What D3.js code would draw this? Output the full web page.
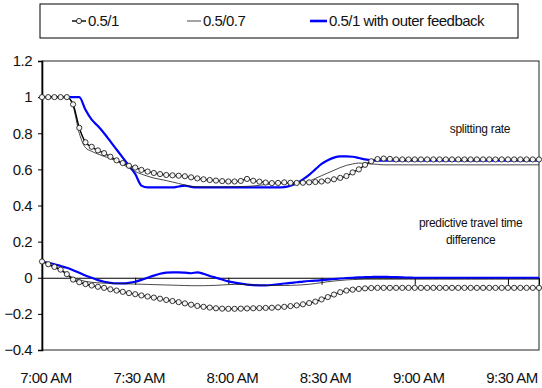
<!DOCTYPE html>
<html>
<head>
<meta charset="utf-8">
<script src="https://cdn.jsdelivr.net/npm/d3@7"></script>
<style>
  html, body { margin: 0; padding: 0; background: #fff; }
  svg { display: block; }
  text { font-family: "Liberation Sans", Arial, sans-serif; fill: #111; }
</style>
</head>
<body>
<svg id="chart" width="542" height="388"></svg>
<script>
// minutes after 7:00 AM, one sample every 2 minutes
const minutes = [
  0, 2, 4, 6, 8, 10, 12, 14, 16, 18, 20, 22, 24, 26, 28, 30, 32, 34, 36, 38,
  40, 42, 44, 46, 48, 50, 52, 54, 56, 58, 60, 62, 64, 66, 68, 70, 72, 74, 76, 78,
  80, 82, 84, 86, 88, 90, 92, 94, 96, 98, 100, 102, 104, 106, 108, 110, 112, 114, 116, 118,
  120, 122, 124, 126, 128, 130, 132, 134, 136, 138, 140, 142, 144, 146, 148, 150, 152, 154, 156, 158,
  160
];

// splitting rate
const splitA = [
  1.0, 1.0, 1.0, 1.0, 1.0, 0.96, 0.83, 0.75, 0.725, 0.705, 0.69, 0.67, 0.65, 0.635, 0.62, 0.61, 0.597, 0.588, 0.58, 0.574,
  0.569, 0.567, 0.565, 0.562, 0.556, 0.55, 0.545, 0.541, 0.538, 0.535, 0.533, 0.533, 0.536, 0.547, 0.537, 0.532, 0.527, 0.524, 0.525, 0.528,
  0.526, 0.525, 0.526, 0.528, 0.53, 0.533, 0.538, 0.545, 0.553, 0.563, 0.583, 0.6, 0.625, 0.645, 0.657, 0.66, 0.658, 0.655, 0.655, 0.655,
  0.655, 0.655, 0.655, 0.655, 0.655, 0.655, 0.655, 0.655, 0.655, 0.655, 0.655, 0.655, 0.655, 0.655, 0.655, 0.655, 0.655, 0.655, 0.655, 0.655,
  0.655
];
const splitB = [
  1.0, 1.0, 1.0, 1.0, 1.0, 0.95, 0.8, 0.72, 0.7, 0.685, 0.672, 0.66, 0.645, 0.628, 0.607, 0.588, 0.574, 0.562, 0.552, 0.545,
  0.538, 0.53, 0.522, 0.513, 0.506, 0.504, 0.503, 0.503, 0.503, 0.503, 0.503, 0.504, 0.505, 0.506, 0.508, 0.512, 0.516, 0.52, 0.522, 0.523,
  0.524, 0.525, 0.528, 0.535, 0.55, 0.565, 0.58, 0.595, 0.61, 0.622, 0.63, 0.635, 0.633, 0.63, 0.628, 0.625, 0.625, 0.625, 0.625, 0.625,
  0.625, 0.625, 0.625, 0.625, 0.625, 0.625, 0.625, 0.625, 0.625, 0.625, 0.625, 0.625, 0.625, 0.625, 0.625, 0.625, 0.625, 0.625, 0.625, 0.625,
  0.625
];
const splitC = [
  1.0, 1.0, 1.0, 1.0, 1.0, 1.0, 1.0, 0.93, 0.875, 0.84, 0.8, 0.755, 0.71, 0.665, 0.62, 0.575, 0.51, 0.5, 0.5, 0.5,
  0.5, 0.5, 0.505, 0.51, 0.503, 0.5, 0.5, 0.5, 0.5, 0.5, 0.5, 0.5, 0.5, 0.5, 0.5, 0.5, 0.5, 0.5, 0.5, 0.502,
  0.51, 0.525, 0.545, 0.57, 0.6, 0.63, 0.65, 0.665, 0.672, 0.672, 0.67, 0.663, 0.655, 0.65, 0.648, 0.648, 0.648, 0.648, 0.648, 0.648,
  0.648, 0.648, 0.648, 0.648, 0.648, 0.648, 0.648, 0.648, 0.648, 0.648, 0.648, 0.648, 0.648, 0.648, 0.648, 0.648, 0.648, 0.648, 0.648, 0.648,
  0.648
];

// predictive travel time difference
const diffA = [
  0.09, 0.075, 0.06, 0.045, 0.02, -0.01, -0.025, -0.035, -0.043, -0.05, -0.056, -0.064, -0.071, -0.078, -0.085, -0.091, -0.098, -0.104, -0.11, -0.116,
  -0.123, -0.129, -0.135, -0.142, -0.149, -0.156, -0.161, -0.165, -0.169, -0.171, -0.172, -0.172, -0.171, -0.17, -0.169, -0.168, -0.167, -0.166, -0.164, -0.161,
  -0.157, -0.153, -0.147, -0.14, -0.132, -0.12, -0.107, -0.093, -0.08, -0.071, -0.066, -0.062, -0.059, -0.057, -0.056, -0.056, -0.056, -0.056, -0.056, -0.056,
  -0.056, -0.056, -0.056, -0.056, -0.056, -0.056, -0.056, -0.056, -0.056, -0.056, -0.056, -0.056, -0.056, -0.056, -0.056, -0.056, -0.056, -0.056, -0.056, -0.056,
  -0.056
];
const diffB = [
  0.09, 0.072, 0.055, 0.04, 0.02, 0.0, -0.012, -0.02, -0.025, -0.028, -0.03, -0.031, -0.032, -0.033, -0.034, -0.035, -0.036, -0.037, -0.038, -0.039,
  -0.04, -0.041, -0.042, -0.043, -0.044, -0.044, -0.044, -0.043, -0.042, -0.04, -0.038, -0.037, -0.037, -0.038, -0.04, -0.041, -0.042, -0.043, -0.043, -0.043,
  -0.042, -0.041, -0.039, -0.036, -0.032, -0.027, -0.022, -0.018, -0.015, -0.012, -0.01, -0.009, -0.008, -0.008, -0.008, -0.008, -0.008, -0.008, -0.008, -0.008,
  -0.008, -0.008, -0.008, -0.008, -0.008, -0.008, -0.008, -0.008, -0.008, -0.008, -0.008, -0.008, -0.008, -0.008, -0.008, -0.008, -0.008, -0.008, -0.008, -0.008,
  -0.008
];
const diffC = [
  0.09, 0.083, 0.075, 0.065, 0.055, 0.042, 0.028, 0.013, 0.0, -0.013, -0.022, -0.028, -0.031, -0.031, -0.028, -0.022, -0.012, 0.0, 0.012, 0.022,
  0.028, 0.03, 0.03, 0.028, 0.025, 0.03, 0.022, 0.01, 0.0, -0.01, -0.02, -0.027, -0.033, -0.038, -0.041, -0.042, -0.042, -0.04, -0.036, -0.032,
  -0.028, -0.025, -0.021, -0.018, -0.016, -0.013, -0.01, -0.007, -0.004, -0.002, 0.0, 0.002, 0.003, 0.004, 0.005, 0.005, 0.004, 0.003, 0.002, 0.001,
  0.0, 0.0, 0.0, 0.0, 0.0, 0.0, 0.0, 0.0, 0.0, 0.0, 0.0, 0.0, 0.0, 0.0, 0.0, 0.0, 0.0, 0.0, 0.0, 0.0,
  0.0
];

const seriesNames = ["0.5/1", "0.5/0.7", "0.5/1 with outer feedback"];
const yTicks = [-0.4, -0.2, 0, 0.2, 0.4, 0.6, 0.8, 1, 1.2];
const xTicks = [0, 30, 60, 90, 120, 150];
const xTickLabels = ["7:00 AM", "7:30 AM", "8:00 AM", "8:30 AM", "9:00 AM", "9:30 AM"];
const notes = [
  { lines: ["splitting rate"], t: 141, v: 0.8 },
  { lines: ["predictive travel time", "difference"], t: 138, v: 0.28 }
];

const svg = d3.select("#chart");
const plot = { left: 42, right: 539, top: 61, bottom: 350 };

const x = d3.scaleLinear().domain([0, 160]).range([plot.left, plot.right]);
const y = d3.scaleLinear().domain([-0.4, 1.2]).range([plot.bottom, plot.top]);

const blue = "#0000ff";

// plot frame
svg.append("rect")
  .attr("x", plot.left).attr("y", plot.top)
  .attr("width", plot.right - plot.left).attr("height", plot.bottom - plot.top)
  .attr("fill", "none").attr("stroke", "#222").attr("stroke-width", 1);

// value axis on the left
const yAxis = svg.append("g")
  .attr("transform", `translate(${plot.left},0)`)
  .call(d3.axisLeft(y).tickValues(yTicks).tickSize(4).tickPadding(6)
    .tickFormat(d => d3.format("")(+d.toFixed(1))));
yAxis.select(".domain").attr("stroke", "#000").attr("stroke-width", 1.6);
yAxis.selectAll(".tick line").attr("stroke", "#000");
yAxis.selectAll(".tick text")
  .style("font-size", "15px").style("letter-spacing", "-0.5px")
  .attr("fill", "#111");

// time axis along the zero line
const xAxis = svg.append("g")
  .attr("transform", `translate(0,${y(0)})`)
  .call(d3.axisBottom(x).tickValues(xTicks).tickSize(7).tickFormat(""));
xAxis.select(".domain").attr("stroke", "#000").attr("stroke-width", 1);
xAxis.selectAll(".tick line").attr("stroke", "#000");

// time labels under the frame
svg.append("g").selectAll("text")
  .data(xTicks)
  .join("text")
  .attr("x", d => x(d) + 4)
  .attr("y", 383)
  .attr("text-anchor", "middle")
  .style("font-size", "15px").style("letter-spacing", "-0.5px")
  .text((d, i) => xTickLabels[i]);

const line = d3.line()
  .x((d, i) => x(minutes[i]))
  .y(d => y(d))
  .curve(d3.curveMonotoneX);

function drawSeries(values, style) {
  svg.append("path")
    .datum(values)
    .attr("d", line)
    .attr("fill", "none")
    .attr("stroke", style.color)
    .attr("stroke-width", style.width)
    .attr("stroke-linejoin", "round");
  if (style.markers) {
    svg.append("g").selectAll("circle")
      .data(values)
      .join("circle")
      .attr("cx", (d, i) => x(minutes[i]))
      .attr("cy", d => y(d))
      .attr("r", 2.6)
      .attr("fill", "#f4f4f4")
      .attr("stroke", "#222")
      .attr("stroke-width", 0.9);
  }
}

const styles = [
  { color: "#000", width: 1.4, markers: true },
  { color: "#1a1a1a", width: 0.8, markers: false },
  { color: blue, width: 2.2, markers: false }
];

drawSeries(diffC, styles[2]);
drawSeries(splitC, styles[2]);
drawSeries(diffB, styles[1]);
drawSeries(splitB, styles[1]);
drawSeries(diffA, styles[0]);
drawSeries(splitA, styles[0]);

// annotations inside the plot
notes.forEach(n => {
  const t = svg.append("text")
    .attr("x", x(n.t)).attr("y", y(n.v))
    .attr("text-anchor", "middle")
    .style("font-size", "12px").style("letter-spacing", "-0.3px");
  n.lines.forEach((s, i) => {
    t.append("tspan").attr("x", x(n.t)).attr("dy", i === 0 ? 0 : 16.5).text(s);
  });
});

// legend
const legend = svg.append("g");
legend.append("rect")
  .attr("x", 40).attr("y", 4).attr("width", 478).attr("height", 34)
  .attr("fill", "#fff").attr("stroke", "#000").attr("stroke-width", 1);

const legendItems = [
  { x: 72, style: styles[0] },
  { x: 187, style: styles[1] },
  { x: 310, style: styles[2] }
];
const ly = 21;
legendItems.forEach((it, i) => {
  const len = i === 2 ? 17 : 14;
  legend.append("line")
    .attr("x1", it.x).attr("x2", it.x + len)
    .attr("y1", ly).attr("y2", ly)
    .attr("stroke", it.style.color).attr("stroke-width", it.style.width + (i === 2 ? 0.4 : 0));
  if (it.style.markers) {
    legend.append("circle")
      .attr("cx", it.x + len / 2).attr("cy", ly).attr("r", 2.6)
      .attr("fill", "#f4f4f4").attr("stroke", "#222").attr("stroke-width", 0.9);
  }
  legend.append("text")
    .attr("x", it.x + len + 2).attr("y", ly + 5)
    .style("font-size", "15px").style("letter-spacing", "-0.5px")
    .text(seriesNames[i]);
});
</script>
</body>
</html>
